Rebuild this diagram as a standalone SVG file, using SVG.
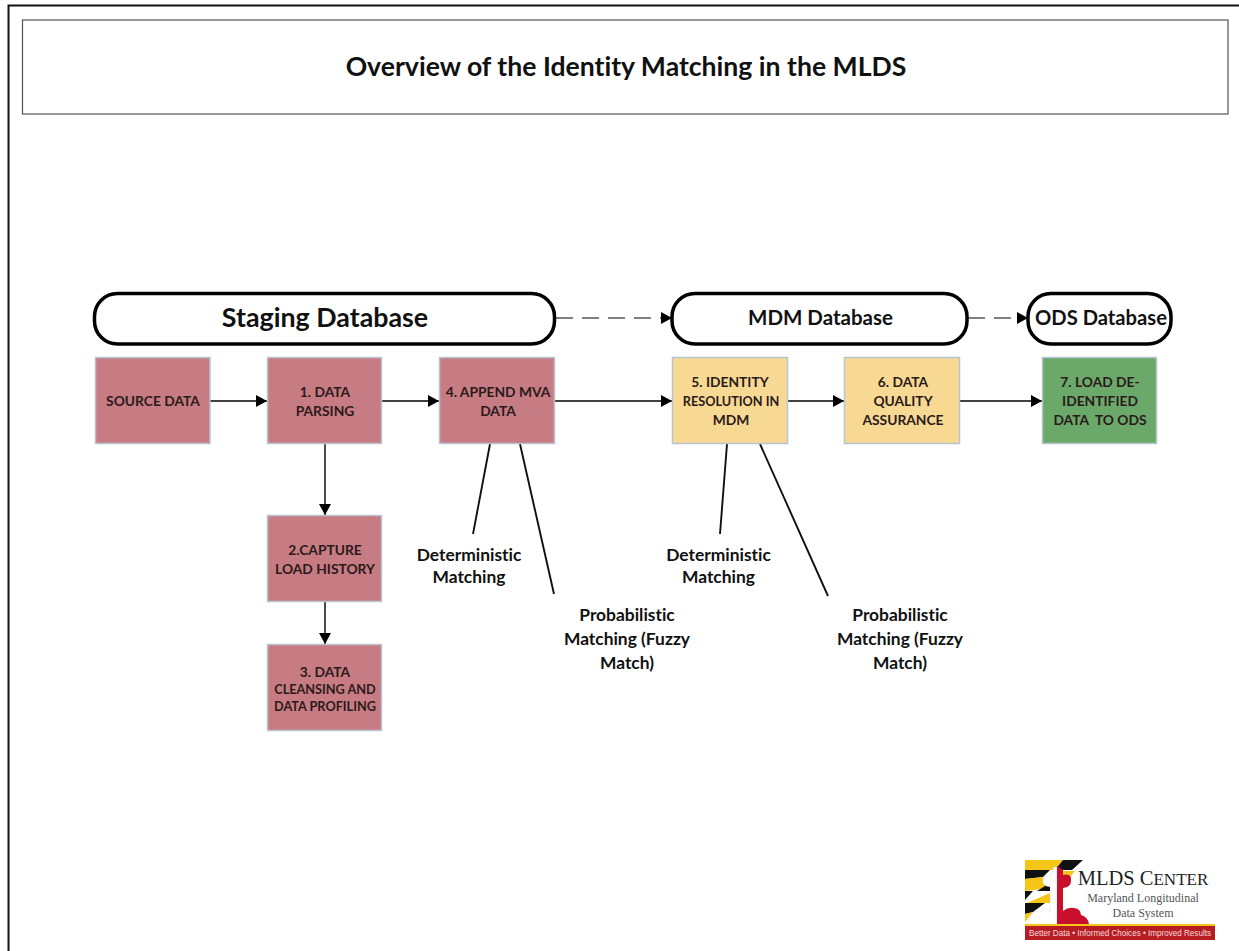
<svg xmlns="http://www.w3.org/2000/svg" width="1239" height="951" viewBox="0 0 1239 951">
<defs>
<marker id="ah" markerUnits="userSpaceOnUse" markerWidth="12" markerHeight="12" refX="11" refY="6" orient="auto"><path d="M0 0L11 6L0 12Z" fill="#000"/></marker>
</defs>
<style>
text{font-family:Lato,"Liberation Sans",sans-serif;font-weight:700;text-anchor:middle;fill:#111;white-space:pre;font-variant-ligatures:none}
.b{stroke:#b9c4d0;stroke-width:1.5}
.r{fill:#c77b82}.y{fill:#f8d994}.g{fill:#6aa96a}
.n{font-size:13.8px;fill:#2a1a1a}
.t{font-size:12.7px;fill:#2a1a1a}
.p{fill:#fff;stroke:#000;stroke-width:3.5}
.l{font-size:17.4px}
.c{fill:none;stroke:#000;stroke-width:1.4}
.m{fill:none;stroke:#111;stroke-width:1.9}
.d{fill:none;stroke:#555;stroke-width:1.6;stroke-dasharray:17 9}
.s{font-family:"Liberation Serif",serif;font-weight:400}
</style>
<rect width="1239" height="951" fill="#fff"/>
<path d="M8.500 951V5.500H1239" fill="none" stroke="#111" stroke-width="2"/>
<g id="title"><rect x="22.500" y="20" width="1205.500" height="94" fill="#fff" stroke="#555" stroke-width="1.200"/><text x="626" y="76" font-size="26.600">Overview of the Identity Matching in the MLDS</text></g>
<g id="connectors">
<path class="c" marker-end="url(#ah)" d="M210 401H267"/>
<path class="c" marker-end="url(#ah)" d="M382 401H439"/>
<path class="c" marker-end="url(#ah)" d="M555 401H672"/>
<path class="c" marker-end="url(#ah)" d="M788 401H844"/>
<path class="c" marker-end="url(#ah)" d="M960 401H1042"/>
<path class="c" marker-end="url(#ah)" d="M325 444V515"/>
<path class="c" marker-end="url(#ah)" d="M325 602V644"/>
<path class="d" d="M556 318H661"/><path d="M661 312L672 318L661 324Z"/>
<path class="d" d="M968 318H1017"/><path d="M1017 312L1028 318L1017 324Z"/>
<path class="m" d="M490 444L473 534M520 444L554 594M727 444L720 534M760 444L828 596"/>
</g>
<g id="staging"><rect class="p" x="94.500" y="293.500" width="460" height="50.500" rx="23"/><text x="325" y="327" font-size="26.800">Staging Database</text></g>
<g id="mdm"><rect class="p" x="672" y="293.500" width="295" height="50.500" rx="23"/><text x="820.500" y="325" font-size="20.500">MDM Database</text></g>
<g id="ods"><rect class="p" x="1028" y="293.500" width="143" height="50.500" rx="23"/><text x="1101" y="325" font-size="20.200">ODS Database</text></g>
<g id="source"><rect class="r b" x="95.500" y="357.500" width="114.500" height="86"/><text class="n" x="153" y="406">SOURCE DATA</text></g>
<g id="n1"><rect class="r b" x="267.500" y="357.500" width="114" height="86"/><text class="n" x="325" y="397">1. DATA</text><text class="n" x="325" y="416">PARSING</text></g>
<g id="n4"><rect class="r b" x="439.500" y="357.500" width="115" height="86"/><text class="n" x="498" y="397">4. APPEND MVA</text><text class="n" x="498" y="416">DATA</text></g>
<g id="n5"><rect class="y b" x="672.500" y="357.500" width="115" height="86"/><text class="n" x="730" y="387">5. IDENTITY</text><text class="t" x="731" y="406">RESOLUTION IN</text><text class="n" x="731" y="425">MDM</text></g>
<g id="n6"><rect class="y b" x="844.500" y="357.500" width="115" height="86"/><text class="n" x="903" y="387">6. DATA</text><text class="n" x="903" y="406">QUALITY</text><text class="n" x="903" y="425">ASSURANCE</text></g>
<g id="n7"><rect class="g b" x="1042.500" y="357.500" width="114" height="86"/><text class="n" x="1100" y="387">7. LOAD DE-</text><text class="n" x="1100" y="406">IDENTIFIED</text><text class="n" x="1100" y="425">DATA  TO ODS</text></g>
<g id="n2"><rect class="r b" x="267.500" y="515.500" width="114" height="86"/><text class="n" x="325" y="555">2.CAPTURE</text><text class="n" x="325" y="574">LOAD HISTORY</text></g>
<g id="n3"><rect class="r b" x="267.500" y="644.500" width="114" height="86"/><text class="n" x="325" y="677">3. DATA</text><text class="t" x="325" y="694">CLEANSING AND</text><text class="t" x="325" y="711">DATA PROFILING</text></g>
<g id="lab1"><text class="l" x="469" y="561">Deterministic</text><text class="l" x="469" y="583">Matching</text></g>
<g id="lab2"><text class="l" x="627" y="621">Probabilistic</text><text class="l" x="627" y="645">Matching (Fuzzy</text><text class="l" x="627" y="669">Match)</text></g>
<g id="lab3"><text class="l" x="718.500" y="561">Deterministic</text><text class="l" x="718.500" y="583">Matching</text></g>
<g id="lab4"><text class="l" x="900" y="621">Probabilistic</text><text class="l" x="900" y="645">Matching (Fuzzy</text><text class="l" x="900" y="669">Match)</text></g>
<g id="logo">
<path d="M1025 860H1063L1055 870H1025Z" fill="#f5c518"/>
<path d="M1063 860H1083L1072 870H1055Z" fill="#111"/>
<path d="M1063 871H1075L1070 877H1063Z" fill="#f5c518"/>
<path d="M1025 870H1050L1043 877L1025 879Z" fill="#111"/>
<path d="M1025 879L1043 877V882L1050 885V888L1025 891Z" fill="#f5c518"/>
<path d="M1025 891H1033L1025 900ZM1037 891L1050 883V891Z" fill="#111"/>
<path d="M1027 903L1050 893V903H1033Z" fill="#f5c518"/>
<path d="M1025 903H1045L1033 912L1025 914Z" fill="#111"/>
<path d="M1025 914L1033 912L1025 922Z" fill="#f5c518"/>
<path d="M1054 867H1057V924H1026L1030 917Q1034 910 1040 912Q1046 905 1050 912L1051 887Q1042 886 1043 880Q1045 875 1051 876Z" fill="#fff" stroke="#ddd" stroke-width=".5"/>
<path d="M1057 866L1063 870V875Q1072 873 1071 881Q1071 887 1063 888V911Q1068 907 1074 908Q1081 909 1081 915Q1088 917 1089 924H1057Z" fill="#c8102e"/>
<rect x="1025" y="924" width="190" height="2" fill="#f5c518"/>
<rect x="1025" y="926" width="190" height="14" fill="#b71c23"/>
<text x="1143" y="885" class="s" style="fill:#222" font-size="20.500">MLDS C<tspan font-size="17">ENTER</tspan></text>
<text x="1143" y="902" class="s" style="fill:#555" font-size="12">Maryland Longitudinal</text>
<text x="1143" y="917" class="s" style="fill:#555" font-size="12">Data System</text>
<text x="1120" y="936" style="font-family:'Liberation Sans',sans-serif;font-weight:400;fill:#f4dcdc" font-size="9" textLength="182" lengthAdjust="spacingAndGlyphs">Better Data • Informed Choices • Improved Results</text>
</g>
</svg>
